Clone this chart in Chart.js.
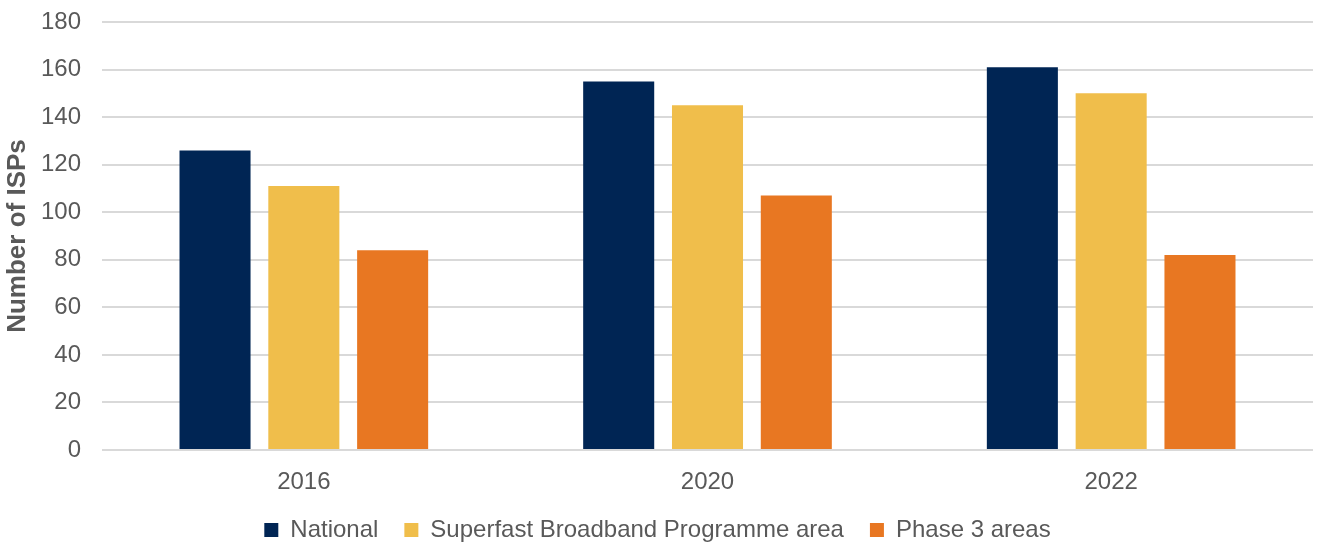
<!DOCTYPE html>
<html>
<head>
<meta charset="utf-8">
<script src="https://cdn.jsdelivr.net/npm/chart.js@4"></script>
<style>
   html, body { margin: 0; padding: 0; background: #fff; }
   #wrap { width: 1317px; height: 544px; position: relative; }
</style>
</head>
<body>
<div id="wrap"><canvas id="chart"></canvas></div>
<script>
const years = ["2016", "2020", "2022"];
const national = [126, 155, 161];
const superfast = [111, 145, 150];
const phase3 = [84, 107, 82];
const yTicks = [0, 20, 40, 60, 80, 100, 120, 140, 160, 180];

const textColor = "#595959";
const fontFamily = "'Liberation Sans', Arial, sans-serif";

new Chart(document.getElementById("chart"), {
   type: "bar",
   data: {
      labels: years,
      datasets: [
         { label: "National", data: national, backgroundColor: "#002554" },
         { label: "Superfast Broadband Programme area", data: superfast, backgroundColor: "#f0be4b" },
         { label: "Phase 3 areas", data: phase3, backgroundColor: "#e87722" },
      ],
   },
   options: {
      responsive: true,
      maintainAspectRatio: false,
      animation: false,
      // negativer Rand unten: Legende sitzt etwas tiefer
      layout: { padding: { top: 0, right: 4, left: 2, bottom: -8 } },
      datasets: {
         bar: { categoryPercentage: 0.66, barPercentage: 0.8 },
      },
      scales: {
         x: {
            grid: { display: false },
            border: { display: false },
            ticks: { color: textColor, font: { family: fontFamily, size: 24 }, padding: 10 },
            afterFit: (scale) => { scale.height = 42; },
         },
         y: {
            min: 0,
            max: 180,
            afterBuildTicks: (axis) => { axis.ticks = yTicks.map((v) => ({ value: v })); },
            afterFit: (scale) => {
               scale.width = 100;
               scale.paddingTop = 22; // Platz über der 180-Linie
               scale.paddingBottom = 0;
            },
            grid: { color: "#d9d9d9", lineWidth: 2, drawTicks: false },
            border: { display: false },
            ticks: { color: textColor, font: { family: fontFamily, size: 24 }, padding: 21 },
            title: {
               display: true,
               text: "Number of ISPs",
               color: textColor,
               font: { family: fontFamily, size: 26, weight: "bold" },
               padding: { top: 0, bottom: 0 },
            },
         },
      },
      plugins: {
         legend: {
            position: "bottom",
            labels: {
               color: textColor,
               font: { family: fontFamily, size: 24 },
               boxWidth: 14,
               boxHeight: 14,
               padding: 26,
            },
         },
         tooltip: { enabled: false },
      },
   },
});
</script>
</body>
</html>
